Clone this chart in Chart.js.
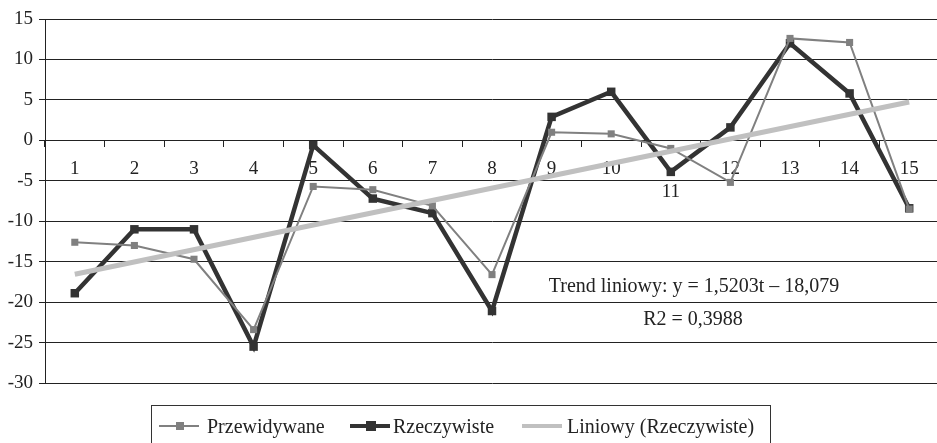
<!DOCTYPE html>
<html>
<head>
<meta charset="utf-8">
<script src="https://cdn.jsdelivr.net/npm/chart.js@4/dist/chart.umd.min.js"></script>
<style>
  body { margin: 0; overflow: hidden; background: #fff; }
  #wrap { position: relative; width: 945px; height: 443px; }
  #legend {
    position: absolute; left: 151px; top: 405px; width: 620px; height: 60px;
    border: 1px solid #333; box-sizing: border-box;
    font-family: "Liberation Serif", serif; font-size: 20px; color: #222;
  }
  #legend span { position: absolute; white-space: nowrap; }
  #legend .txt { top: 8px; line-height: 24px; }
</style>
</head>
<body>
<div id="wrap">
  <canvas id="chart"></canvas>
  <div id="legend">
    <span style="left:7px;top:19px;width:40px;height:2px;background:#808080"></span>
    <span style="left:24px;top:16px;width:8px;height:8px;background:#808080"></span>
    <span class="txt" style="left:55px">Przewidywane</span>

    <span style="left:198px;top:18px;width:40px;height:4px;background:#333"></span>
    <span style="left:214px;top:15px;width:10px;height:10px;background:#333"></span>
    <span class="txt" style="left:241px">Rzeczywiste</span>

    <span style="left:370px;top:18px;width:40px;height:4px;background:#c0c0c0"></span>
    <span class="txt" style="left:415px">Liniowy (Rzeczywiste)</span>
  </div>
</div>
<script>
// data
const periods = ['1', '2', '3', '4', '5', '6', '7', '8', '9', '10', ['', '11'], '12', '13', '14', '15'];
const predicted = [-12.6, -13.0, -14.7, -23.4, -5.7, -6.1, -8.1, -16.6, 1.0, 0.8, -1.0, -5.2, 12.6, 12.1, -8.5];
const actual = [-18.9, -11.0, -11.0, -25.5, -0.6, -7.2, -9.0, -21.1, 2.9, 6.0, -3.9, 1.6, 12.0, 5.8, -8.4];
// linear trend endpoints (y = 1,5203t - 18,079)
const trend = [-16.56, null, null, null, null, null, null, null, null, null, null, null, null, null, 4.73];
const trendText = ['Trend liniowy: y = 1,5203t – 18,079', 'R2 = 0,3988'];

const font = { family: 'Liberation Serif', size: 19 };

const trendLabel = {
  id: 'trendLabel',
  afterDraw(chart) {
    const ctx = chart.ctx;
    ctx.save();
    ctx.font = '20px "Liberation Serif"';
    ctx.fillStyle = '#222';
    ctx.textAlign = 'center';
    ctx.textBaseline = 'alphabetic';
    ctx.fillText(trendText[0], 694, 292);
    ctx.fillText(trendText[1], 693, 325);
    ctx.restore();
  }
};

new Chart(document.getElementById('chart'), {
  type: 'line',
  data: {
    labels: periods,
    datasets: [
      {
        label: 'Liniowy (Rzeczywiste)',
        data: trend,
        borderColor: '#c0c0c0',
        borderWidth: 5,
        pointRadius: 0,
        spanGaps: true,
        order: 0
      },
      {
        label: 'Przewidywane',
        data: predicted,
        borderColor: '#808080',
        backgroundColor: '#808080',
        borderWidth: 2,
        pointStyle: 'rect',
        pointRadius: 5,
        pointBorderWidth: 0,
        order: 1
      },
      {
        label: 'Rzeczywiste',
        data: actual,
        borderColor: '#333',
        backgroundColor: '#333',
        borderWidth: 4.5,
        pointStyle: 'rect',
        pointRadius: 6,
        pointBorderWidth: 0,
        order: 2
      }
    ]
  },
  options: {
    responsive: true,
    maintainAspectRatio: false,
    animation: false,
    layout: { padding: { top: 19, bottom: 60, left: 0, right: 0 } },
    plugins: { legend: { display: false }, tooltip: { enabled: false } },
    scales: {
      x: {
        position: { y: 0 },
        offset: true,
        grid: { display: true, offset: true, drawOnChartArea: false, drawTicks: true, tickLength: 6, color: '#222' },
        border: { display: true, color: '#222', width: 1 },
        ticks: { font: font, color: '#222', padding: 11, maxRotation: 0, autoSkip: false }
      },
      y: {
        min: -30,
        max: 15,
        ticks: { stepSize: 5, font: font, color: '#222', padding: 6 },
        grid: { color: '#222', lineWidth: 1, tickLength: 6 },
        border: { display: true, color: '#222', width: 1 },
        afterFit(scale) { scale.width = 45; }
      }
    }
  },
  plugins: [trendLabel]
});
</script>
</body>
</html>
